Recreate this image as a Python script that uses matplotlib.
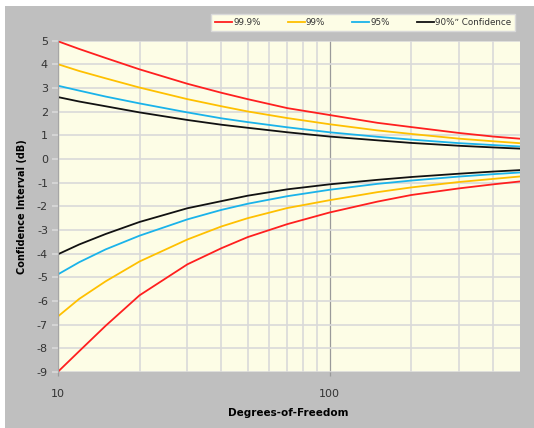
import matplotlib
matplotlib.use("Agg")
import matplotlib.pyplot as plt
from matplotlib.patches import Rectangle
from matplotlib.ticker import FixedLocator, NullFormatter

plt.rcParams["axes.unicode_minus"] = False

# degrees of freedom
dof = [10, 12, 15, 20, 30, 40, 50, 70, 100, 150, 200, 300, 400, 500]

# upper bounds (dB)
hi_999 = [4.98, 4.65, 4.27, 3.79, 3.18, 2.80, 2.53, 2.15, 1.86, 1.53, 1.35, 1.10, 0.95, 0.86]
hi_99 = [4.01, 3.72, 3.41, 3.02, 2.53, 2.23, 2.01, 1.73, 1.47, 1.21, 1.06, 0.86, 0.75, 0.67]
hi_95 = [3.10, 2.89, 2.64, 2.35, 1.97, 1.72, 1.56, 1.34, 1.13, 0.94, 0.82, 0.67, 0.59, 0.53]
hi_90 = [2.62, 2.43, 2.23, 1.97, 1.65, 1.45, 1.32, 1.13, 0.95, 0.79, 0.68, 0.56, 0.49, 0.44]

# lower bounds (dB)
lo_999 = [-9.00, -8.12, -7.05, -5.76, -4.45, -3.77, -3.30, -2.75, -2.26, -1.80, -1.52, -1.24, -1.07, -0.95]
lo_99 = [-6.66, -5.91, -5.17, -4.33, -3.40, -2.85, -2.50, -2.07, -1.74, -1.40, -1.20, -0.97, -0.84, -0.74]
lo_95 = [-4.88, -4.36, -3.82, -3.24, -2.55, -2.15, -1.89, -1.57, -1.30, -1.05, -0.91, -0.74, -0.64, -0.57]
lo_90 = [-4.03, -3.61, -3.17, -2.66, -2.08, -1.78, -1.55, -1.28, -1.07, -0.88, -0.76, -0.62, -0.53, -0.47]

labels = ["99.9%", "99%", "95%", "90%\u02ee Confidence"]
colors = ["#ff1f1f", "#ffc000", "#1ab3ea", "#111111"]

fig = plt.figure(figsize=(5.34, 4.28), dpi=100, facecolor="white")
fig.patches.append(Rectangle((5 / 534, 0), 1, (428 - 6) / 428, transform=fig.transFigure,
                             facecolor="#bfbfbf", edgecolor="none", zorder=-10))

ax = fig.add_axes([57.7 / 534, 1 - 372 / 428, (519.5 - 57.7) / 534, (372 - 40.7) / 428])
ax.set_facecolor("#fdfde6")

for up, lo, c, lab in zip([hi_999, hi_99, hi_95, hi_90], [lo_999, lo_99, lo_95, lo_90], colors, labels):
    ax.plot(dof, up, color=c, lw=1.3, label=lab)
    ax.plot(dof, lo, color=c, lw=1.3)

ax.set_xscale("log")
ax.set_xlim(10, 500)
ax.set_ylim(-9, 5)
ax.set_yticks(range(-9, 6))
ax.xaxis.set_major_locator(FixedLocator([10, 100]))
ax.xaxis.set_minor_locator(FixedLocator([20, 30, 40, 50, 60, 70, 80, 90, 200, 300, 400]))
ax.xaxis.set_minor_formatter(NullFormatter())
ax.set_xticklabels(["10", "100"])

ax.grid(True, which="major", axis="y", color="#d9d9d9", lw=1.2)
ax.grid(True, which="minor", axis="x", color="#d9d9d9", lw=1.2)
ax.grid(True, which="major", axis="x", color="#9a9a9a", lw=0.9)
ax.set_axisbelow(True)

for s in ["top", "right", "bottom"]:
    ax.spines[s].set_visible(False)
ax.spines["left"].set_color("#a6a6a6")
ax.tick_params(axis="y", which="major", length=4, color="#d9d9d9", width=1.2,
               labelsize=8, labelcolor="#333333", pad=3)
ax.tick_params(axis="x", which="major", length=3, color="#9a9a9a", width=0.9,
               labelsize=8, labelcolor="#333333", pad=9)
ax.tick_params(axis="x", which="minor", length=0)

ax.set_xlabel("Degrees-of-Freedom", fontsize=7.5, fontweight="bold", labelpad=7)
ax.set_ylabel("Confidence Interval (dB)", fontsize=7, fontweight="bold", labelpad=7)

leg = fig.legend(loc="upper left", bbox_to_anchor=(211 / 534, 1 - 14 / 428, 304 / 534, 0),
                 mode="expand", ncol=4, fontsize=6.3, frameon=True, fancybox=False,
                 handlelength=2.0, handletextpad=0.1, columnspacing=0.6, borderpad=0.45,
                 borderaxespad=0)
leg.get_frame().set_facecolor("#fdfde6")
leg.get_frame().set_edgecolor("#d9d9d9")
leg.get_frame().set_alpha(1)
for t in leg.get_texts():
    t.set_color("#333333")

fig.savefig("out.png", dpi=100, facecolor=fig.get_facecolor())
